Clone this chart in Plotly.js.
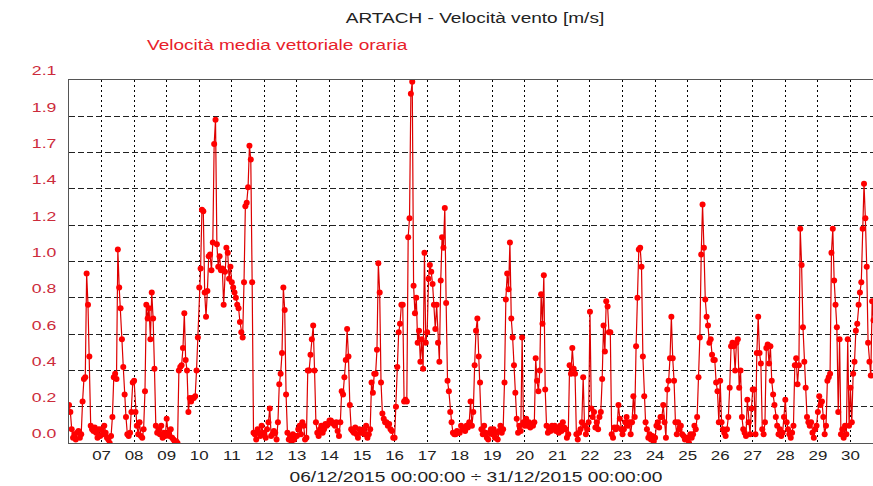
<!DOCTYPE html>
<html>
<head>
<meta charset="utf-8">
<script src="https://cdn.plot.ly/plotly-3.0.1.min.js"></script>
<style>
  html, body { margin: 0; padding: 0; background: #fff; overflow: hidden; }
  #plot { width: 890px; height: 486px; }
</style>
</head>
<body>
<div id="plot"></div>
<script>
// === Data: hourly vector mean wind speed [m/s], one array per day (00..23) ===
const d06 = [0.22, 0.18, 0.08, 0.03, 0.05, 0.02, 0.06, 0.07, 0.03, 0.05, 0.24, 0.37, 0.38, 0.98, 0.80, 0.50, 0.10, 0.08, 0.07, 0.09, 0.06, 0.03, 0.08, 0.04];
const d07 = [0.08, 0.05, 0.10, 0.06, 0.03, 0.02, 0.00, 0.04, 0.15, 0.38, 0.40, 0.37, 1.12, 0.90, 0.78, 0.60, 0.44, 0.28, 0.15, 0.05, 0.04, 0.06, 0.18, 0.35];
const d08 = [0.36, 0.18, 0.10, 0.05, 0.12, 0.04, 0.03, 0.08, 0.30, 0.80, 0.72, 0.78, 0.60, 0.87, 0.72, 0.43, 0.10, 0.06, 0.08, 0.05, 0.10, 0.03, 0.06, 0.04];
const d09 = [0.14, 0.06, 0.04, 0.08, 0.03, 0.02, 0.00, 0.01, 0.00, 0.42, 0.44, 0.45, 0.55, 0.75, 0.48, 0.42, 0.18, 0.26, 0.24, 0.26, 0.26, 0.27, 0.42, 0.61];
const d10 = [0.90, 1.01, 1.35, 1.34, 0.87, 0.73, 0.88, 1.08, 1.09, 1.00, 1.16, 1.73, 1.87, 1.15, 1.02, 1.08, 1.00, 1.01, 0.80, 0.99, 1.13, 1.10, 0.95, 1.02];
const d11 = [0.93, 0.90, 0.87, 0.84, 0.80, 0.78, 0.70, 0.64, 0.61, 0.93, 1.37, 1.39, 1.48, 1.72, 1.64, 0.93, 0.06, 0.05, 0.02, 0.08, 0.06, 0.04, 0.10, 0.06];
const d12 = [0.05, 0.03, 0.08, 0.12, 0.20, 0.04, 0.05, 0.07, 0.06, 0.02, 0.12, 0.34, 0.40, 0.52, 0.90, 0.77, 0.28, 0.06, 0.02, 0.04, 0.01, 0.05, 0.02, 0.04];
const d13 = [0.04, 0.08, 0.10, 0.05, 0.12, 0.10, 0.02, 0.03, 0.42, 0.42, 0.51, 0.60, 0.68, 0.42, 0.12, 0.06, 0.04, 0.08, 0.10, 0.06, 0.08, 0.11, 0.10, 0.11];
const d14 = [0.13, 0.13, 0.12, 0.11, 0.10, 0.12, 0.07, 0.04, 0.12, 0.30, 0.28, 0.38, 0.48, 0.66, 0.50, 0.22, 0.08, 0.07, 0.06, 0.09, 0.05, 0.03, 0.08, 0.06];
const d15 = [0.06, 0.08, 0.05, 0.10, 0.03, 0.05, 0.08, 0.35, 0.29, 0.40, 0.40, 0.54, 1.04, 0.87, 0.35, 0.17, 0.14, 0.12, 0.12, 0.10, 0.11, 0.08, 0.07, 0.03];
const d16 = [0.03, 0.21, 0.44, 0.64, 0.69, 0.80, 0.80, 0.24, 0.25, 0.24, 1.19, 1.30, 2.02, 2.09, 0.91, 0.75, 0.84, 0.58, 0.65, 0.47, 0.60, 0.43, 1.10, 0.58];
const d17 = [0.64, 0.95, 1.03, 0.99, 0.92, 0.80, 0.66, 0.80, 0.58, 0.47, 0.94, 1.19, 1.13, 1.36, 0.81, 0.36, 0.30, 0.18, 0.12, 0.06, 0.05, 0.05, 0.07, 0.06];
const d18 = [0.06, 0.10, 0.08, 0.08, 0.07, 0.10, 0.09, 0.12, 0.24, 0.10, 0.18, 0.45, 0.65, 0.72, 0.50, 0.35, 0.08, 0.05, 0.10, 0.06, 0.03, 0.02, 0.06, 0.08];
const d19 = [0.05, 0.08, 0.03, 0.06, 0.02, 0.07, 0.10, 0.06, 0.08, 0.35, 0.83, 0.98, 0.89, 1.16, 0.72, 0.61, 0.45, 0.29, 0.14, 0.06, 0.10, 0.07, 0.61, 0.12];
const d20 = [0.10, 0.14, 0.10, 0.12, 0.09, 0.11, 0.10, 0.12, 0.49, 0.36, 0.30, 0.42, 0.86, 0.69, 0.97, 0.31, 0.10, 0.06, 0.08, 0.07, 0.10, 0.08, 0.10, 0.07];
const d21 = [0.08, 0.06, 0.10, 0.07, 0.12, 0.09, 0.08, 0.03, 0.05, 0.45, 0.40, 0.55, 0.43, 0.40, 0.05, 0.02, 0.06, 0.08, 0.12, 0.38, 0.10, 0.05, 0.08, 0.12];
const d22 = [0.76, 0.20, 0.15, 0.18, 0.09, 0.12, 0.08, 0.15, 0.18, 0.37, 0.68, 0.53, 0.82, 0.79, 0.64, 0.64, 0.05, 0.03, 0.09, 0.08, 0.09, 0.22, 0.14, 0.08];
const d23 = [0.05, 0.08, 0.12, 0.15, 0.10, 0.12, 0.05, 0.12, 0.27, 0.15, 0.56, 0.84, 1.12, 1.13, 1.02, 0.50, 0.27, 0.12, 0.08, 0.03, 0.05, 0.02, 0.04, 0.01];
const d24 = [0.03, 0.10, 0.12, 0.09, 0.15, 0.15, 0.22, 0.12, 0.03, 0.31, 0.36, 0.49, 0.73, 0.49, 0.36, 0.12, 0.05, 0.12, 0.08, 0.10, 0.05, 0.04, 0.02, 0.03];
const d25 = [0.02, 0.00, 0.05, 0.03, 0.05, 0.10, 0.08, 0.15, 0.38, 0.61, 1.09, 1.38, 1.13, 0.83, 0.73, 0.68, 0.58, 0.60, 0.51, 0.48, 0.48, 0.35, 0.30, 0.12];
const d26 = [0.36, 0.12, 0.08, 0.06, 0.04, 0.08, 0.15, 0.32, 0.56, 0.58, 0.56, 0.42, 0.58, 0.60, 0.32, 0.42, 0.15, 0.08, 0.06, 0.04, 0.25, 0.12, 0.05, 0.20];
const d27 = [0.31, 0.31, 0.05, 0.52, 0.73, 0.52, 0.46, 0.08, 0.05, 0.12, 0.55, 0.57, 0.46, 0.56, 0.36, 0.28, 0.22, 0.15, 0.10, 0.05, 0.08, 0.04, 0.06, 0.15];
const d28 = [0.25, 0.12, 0.08, 0.05, 0.03, 0.06, 0.10, 0.45, 0.49, 0.34, 0.45, 1.24, 1.03, 0.67, 0.47, 0.32, 0.15, 0.12, 0.10, 0.12, 0.06, 0.03, 0.08, 0.10];
const d29 = [0.18, 0.27, 0.22, 0.24, 0.15, 0.05, 0.10, 0.36, 0.38, 0.40, 1.10, 1.24, 0.94, 0.80, 0.67, 0.18, 0.60, 0.05, 0.08, 0.03, 0.10, 0.05, 0.60, 0.10];
const d30 = [0.32, 0.12, 0.40, 0.47, 0.65, 0.69, 0.80, 0.87, 0.93, 1.24, 1.50, 1.30, 1.02, 0.58, 0.47, 0.39, 0.82, 0.71];

const dayLabels = ["07", "08", "09", "10", "11", "12", "13", "14", "15", "16", "17", "18", "19", "20", "21", "22", "23", "24", "25", "26", "27", "28", "29", "30"];
const yTickText = ["0.0", "0.2", "0.4", "0.6", "0.8", "1.0", "1.2", "1.4", "1.7", "1.9", "2.1"];

const speed = [d06, d07, d08, d09, d10, d11, d12, d13, d14, d15, d16, d17, d18, d19, d20, d21, d22, d23, d24, d25, d26, d27, d28, d29, d30].flat();

// hourly timestamps from 06/12/2015 00:00
function stamp(hours) {
    return new Date(Date.UTC(2015, 11, 6, hours)).toISOString().slice(0, 16).replace('T', ' ');
}
const times = speed.map((_, i) => stamp(i));

const tickVals = dayLabels.map(d => '2015-12-' + d + ' 00:00');
const yTickVals = yTickText.map((_, i) => i * 0.21);

const trace = {
    x: times,
    y: speed,
    type: 'scatter',
    mode: 'lines+markers',
    line: { color: '#dd0000', width: 1.2 },
    marker: { color: '#ff0000', size: 6 },
    hoverinfo: 'x+y'
};

const layout = {
    width: 890,
    height: 486,
    margin: { l: 69, r: 7, t: 80, b: 43 },
    paper_bgcolor: '#fff',
    plot_bgcolor: '#fff',
    showlegend: false,
    font: { family: 'Liberation Sans, Arial, sans-serif', size: 13, color: '#222' },
    title: {
        text: 'ARTACH - Velocità vento [m/s]',
        font: { size: 14, color: '#222' },
        xref: 'container', x: 475 / 890, xanchor: 'center',
        yref: 'container', y: 1 - 18 / 486, yanchor: 'middle'
    },
    xaxis: {
        type: 'date',
        range: ['2015-12-06 00:00', '2015-12-31 00:00'],
        tickmode: 'array',
        tickvals: tickVals,
        ticktext: dayLabels,
        ticks: '',
        tickfont: { size: 13, color: '#222' },
        showgrid: true,
        gridcolor: '#000',
        gridwidth: 1,
        griddash: '2px,3px',
        showline: true,
        mirror: true,
        linecolor: '#555',
        linewidth: 1,
        zeroline: false,
        title: {
            text: '06/12/2015 00:00:00 ÷ 31/12/2015 00:00:00',
            font: { size: 14, color: '#222' },
            standoff: 10
        }
    },
    yaxis: {
        range: [0, 2.1],
        tickmode: 'array',
        tickvals: yTickVals,
        ticktext: yTickText,
        ticks: '',
        ticklabelposition: 'outside top',
        ticklabelstandoff: 9,
        tickfont: { size: 13, color: '#cc2b3b' },
        showgrid: true,
        gridcolor: '#222',
        gridwidth: 1,
        griddash: '6px,3px',
        showline: true,
        mirror: true,
        linecolor: '#555',
        linewidth: 1,
        zeroline: false
    },
    annotations: [{
        text: 'Velocità media vettoriale oraria',
        xref: 'paper', yref: 'paper',
        x: (145 - 69) / 814, xanchor: 'left',
        y: 1 + 35 / 363, yanchor: 'middle',
        showarrow: false,
        font: { size: 14, color: '#e8202a' }
    }]
};

// The source image is stretched sideways: widen the text the same way
function stretchText(selector, sx, anchor) {
    document.querySelectorAll(selector).forEach(el => {
        const b = el.getBBox();
        let cx = b.x + b.width / 2;
        if (anchor === 'left') cx = b.x;
        if (anchor === 'right') cx = b.x + b.width;
        const prev = el.getAttribute('transform') || '';
        el.setAttribute('transform', prev + ' translate(' + cx + ',0) scale(' + sx + ',1) translate(' + (-cx) + ',0)');
    });
}

Plotly.newPlot('plot', [trace], layout, { displayModeBar: false, staticPlot: true }).then(() => {
    stretchText('.gtitle', 1.36, 'center');
    stretchText('.annotation-text', 1.36, 'left');
    stretchText('.g-xtitle text', 1.37, 'center');
    stretchText('.xtick text', 1.3, 'center');
    stretchText('.ytick text', 1.36, 'right');
});
</script>
</body>
</html>
